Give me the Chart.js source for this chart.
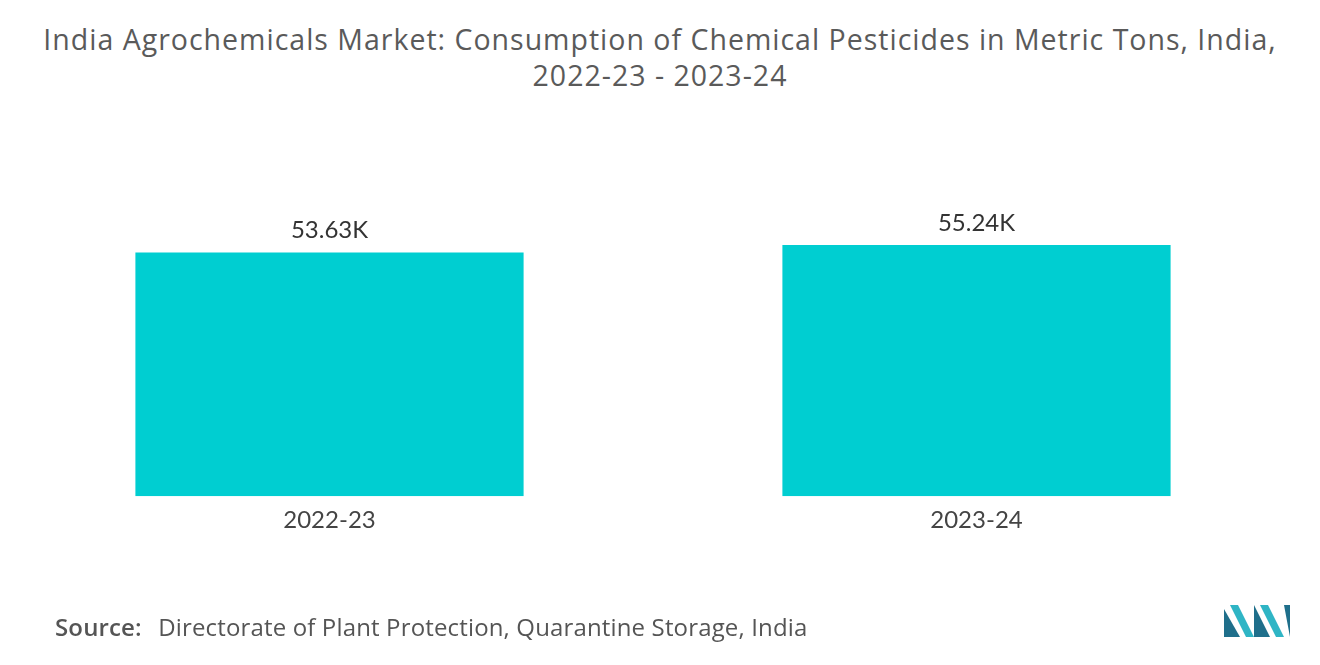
<!DOCTYPE html>
<html><head><meta charset="utf-8">
<script src="https://cdn.jsdelivr.net/npm/chart.js@4/dist/chart.umd.min.js"></script>
<style>
body{margin:0;width:1320px;height:665px;background:#fff;font-family:Lato,"Open Sans",sans-serif;position:relative;overflow:hidden}
#t{position:absolute;top:21px;left:0;width:1320px;text-align:center;color:#5a5a5a;font-family:"Open Sans",sans-serif;font-size:28.5px;line-height:36px;letter-spacing:1px}
#c{position:absolute;left:0;top:0}
#s{position:absolute;left:55px;top:610px;font-size:24px;color:#555;font-family:"Open Sans",sans-serif;letter-spacing:0.15px}
#s b{font-weight:600;margin-right:10px}
#logo{position:absolute;left:1224px;top:603px}
</style></head><body>
<div id="t">India Agrochemicals Market: Consumption of Chemical Pesticides in Metric Tons, India,<br>2022-23 - 2023-24</div>
<canvas id="c" width="1320" height="665"></canvas>
<div id="s"><b>Source:</b> Directorate of Plant Protection, Quarantine Storage, India</div>
<svg id="logo" width="68" height="36" viewBox="0 0 68 36">
<polygon points="0,34 0,6 16,34" fill="#1f6f8b"/><polygon points="6,2 14,2 30,34 22,34" fill="#2fb5c5"/>
<polygon points="30,34 30,2 46,34" fill="#1f6f8b"/><polygon points="36,2 44,2 60,34 52,34" fill="#2fb5c5"/><polygon points="60,2 66,2 66,34" fill="#1f6f8b"/>
</svg>
<script>
const categories=["2022-23","2023-24"];
const values=[53.63,55.24];
const labels=["53.63K","55.24K"];
const valLabels={id:'vl',afterDatasetsDraw(ch){const ctx=ch.ctx;ctx.save();ctx.font='24px Lato, sans-serif';ctx.fillStyle='#333';ctx.textAlign='center';ctx.textBaseline='bottom';
ch.getDatasetMeta(0).data.forEach((b,i)=>ctx.fillText(labels[i],b.x,b.y-10));ctx.restore();}};
new Chart(document.getElementById('c'),{type:'bar',data:{labels:categories,datasets:[{data:values,backgroundColor:'#00CED1',barPercentage:0.6,categoryPercentage:1}]},
options:{responsive:false,animation:false,layout:{padding:{top:178,left:6,right:20,bottom:120}},
plugins:{legend:{display:false},tooltip:{enabled:false}},
scales:{y:{display:false,min:0,max:70},x:{grid:{display:false,drawTicks:false},border:{display:false},ticks:{color:'#444',font:{size:24,family:'Lato'},padding:10}}}},plugins:[valLabels]});
</script></body></html>
